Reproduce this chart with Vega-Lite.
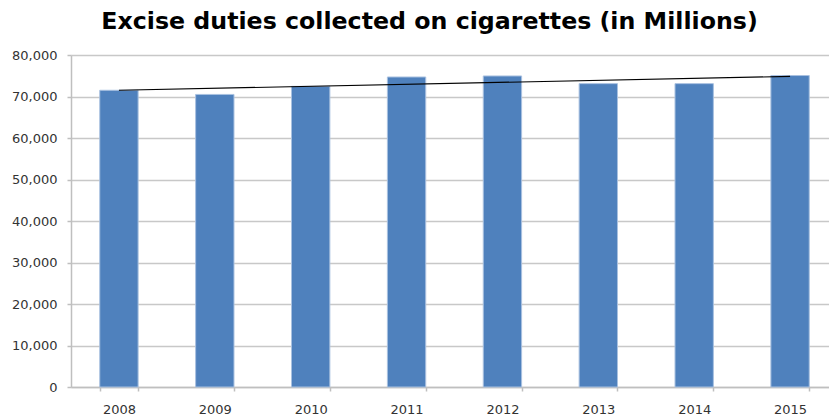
{
  "$schema": "https://vega.github.io/schema/vega-lite/v6.json",
  "width": 767,
  "height": 332,
  "autosize": {"type": "none"},
  "padding": {"left": 71, "top": 55, "right": 0, "bottom": 29},
  "background": "white",
  "title": {
    "text": "Excise duties collected on cigarettes (in Millions)",
    "font": "DejaVu Sans",
    "fontSize": 23.7,
    "fontWeight": "bold",
    "color": "#000000",
    "anchor": "middle",
    "baseline": "alphabetic",
    "dx": -25,
    "dy": 27,
    "offset": 23
  },
  "config": {
    "view": {"stroke": null},
    "axis": {
      "labelFont": "DejaVu Sans",
      "labelFontSize": 13,
      "labelColor": "#333333",
      "domainColor": "#BFBFBF",
      "domainWidth": 1.5,
      "tickColor": "#BFBFBF",
      "tickWidth": 1.5,
      "tickSize": 4,
      "gridColor": "#C8C8C8",
      "gridWidth": 1.5,
      "title": null
    }
  },
  "data": {
    "values": [
      {"year": 2008, "value": 71500},
      {"year": 2009, "value": 70500},
      {"year": 2010, "value": 72450},
      {"year": 2011, "value": 74700},
      {"year": 2012, "value": 74950},
      {"year": 2013, "value": 73100},
      {"year": 2014, "value": 73100},
      {"year": 2015, "value": 75050}
    ]
  },
  "encoding": {
    "x": {
      "field": "year",
      "type": "ordinal",
      "scale": {"paddingInner": 0.6, "paddingOuter": 0.3},
      "axis": {"labelAngle": 0, "tickBand": "extent", "labelPadding": 12, "grid": false}
    },
    "y": {
      "field": "value",
      "type": "quantitative",
      "scale": {"domain": [0, 80000], "nice": false},
      "axis": {"values": [0, 10000, 20000, 30000, 40000, 50000, 60000, 70000, 80000], "format": ",.0f", "labelPadding": 10, "grid": true}
    }
  },
  "layer": [
    {
      "mark": {"type": "bar", "color": "#4F81BD", "stroke": "#A9C1E0", "strokeWidth": 1}
    },
    {
      "transform": [{"regression": "value", "on": "year"}],
      "mark": {"type": "line", "color": "#000000", "strokeWidth": 1.2}
    }
  ]
}
